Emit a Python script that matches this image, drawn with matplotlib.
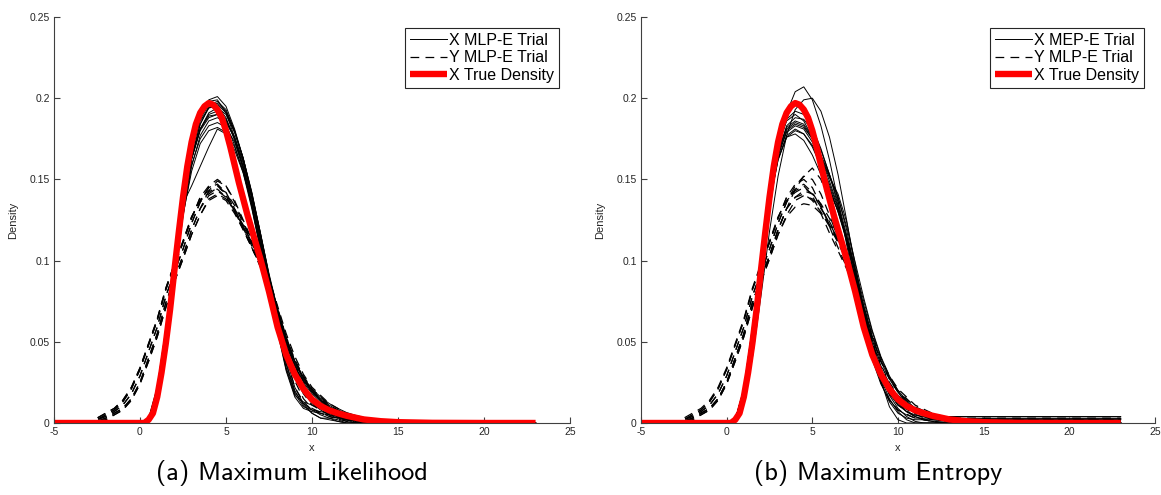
import matplotlib
matplotlib.use("Agg")
import matplotlib.pyplot as plt

# grids the densities were evaluated on
x_grid = [-5, 0, 0.5, 1, 1.5, 2, 2.5, 3, 3.5, 4, 4.5, 5, 5.5, 6, 6.5, 7, 7.5, 8, 8.5,
          9, 9.5, 10, 10.5, 11, 11.5, 12, 12.5, 13, 13.5, 14, 15, 17, 20, 23]
y_grid = [-5, -3, -2.5, -2, -1.5, -1, -0.5, 0, 0.5, 1, 1.5, 2, 2.5, 3, 3.5, 4, 4.5,
          5, 5.5, 6, 6.5, 7, 7.5, 8, 8.5, 9, 9.5, 10, 11, 12, 13, 14, 15, 17, 23]
true_x = [-5, 0, 0.25, 0.5, 0.75, 1, 1.25, 1.5, 1.75, 2, 2.25, 2.5, 2.75, 3, 3.25,
          3.5, 3.75, 4, 4.25, 4.5, 4.75, 5, 5.25, 5.5, 5.75, 6, 6.25, 6.5, 6.75, 7,
          7.25, 7.5, 7.75, 8, 8.5, 9, 9.5, 10, 10.5, 11, 11.5, 12, 13, 14, 15, 17, 20, 23]

true_density = [0, 0, 0, .002, .006, .016, .031, .049, .070, .094, .117, .139, .158,
                .173, .184, .191, .195, .197, .196, .193, .188, .180, .170, .159, .148,
                .138, .128, .119, .110, .101, .091, .081, .070, .059, .042, .030, .021,
                .0145, .0105, .0078, .006, .0045, .0022, .0011, .0005, .0001, 0, 0]

# maximum likelihood trials
x_trials_ml = [
    [0, 0, .002, .018, .052, .092, .134, .167, .189, .199, .201, .195, .181, .163, .140, .114, .088, .066, .048, .035, .026, .019, .014, .010, .0075, .0055, .004, .003, .0022, .0016, .0008, .0002, 0, 0],
    [0, 0, .002, .020, .056, .097, .138, .170, .190, .198, .199, .191, .176, .157, .134, .108, .082, .058, .036, .019, .012, .008, .005, .003, .001, 0, 0, 0, 0, 0, 0, 0, 0, 0],
    [0, 0, .001, .017, .050, .090, .131, .163, .184, .195, .197, .192, .180, .163, .141, .116, .090, .068, .050, .037, .027, .020, .015, .011, .008, .006, .0045, .0033, .0024, .0018, .001, .0003, 0, 0],
    [0, 0, .003, .022, .058, .098, .138, .168, .186, .194, .195, .188, .174, .156, .133, .107, .081, .056, .032, .016, .009, .007, .006, .005, .004, .002, 0, 0, 0, 0, 0, 0, 0, 0],
    [0, 0, .002, .019, .054, .094, .133, .163, .181, .190, .192, .187, .176, .160, .139, .114, .089, .066, .045, .030, .020, .013, .009, .006, .004, .0025, .0015, .001, .0005, .0002, 0, 0, 0, 0],
    [0, 0, .002, .021, .057, .097, .135, .163, .180, .188, .190, .186, .175, .158, .136, .110, .084, .060, .037, .020, .011, .006, .003, .003, .002, 0, 0, 0, 0, 0, 0, 0, 0, 0],
    [0, 0, .001, .016, .049, .088, .127, .158, .177, .186, .188, .185, .176, .161, .141, .117, .092, .070, .052, .038, .028, .021, .016, .012, .009, .0065, .0048, .0035, .0025, .0018, .001, .0003, 0, 0],
    [0, 0, .002, .020, .055, .094, .131, .159, .175, .183, .185, .182, .173, .158, .138, .114, .089, .067, .047, .032, .022, .015, .010, .0065, .004, .0025, .0015, .0008, .0004, .0002, 0, 0, 0, 0],
    [0, 0, .002, .019, .053, .092, .128, .155, .172, .180, .182, .179, .170, .155, .135, .110, .084, .058, .034, .018, .010, .008, .007, .006, .0055, .005, 0, 0, 0, 0, 0, 0, 0, 0],
    [0, 0, .002, .020, .057, .097, .135, .146, .158, .170, .181, .178, .168, .154, .135, .111, .086, .062, .040, .022, .012, .006, .003, .002, .001, 0, 0, 0, 0, 0, 0, 0, 0, 0],
    [0, 0, .002, .019, .054, .095, .136, .167, .187, .196, .198, .193, .180, .162, .139, .113, .087, .064, .044, .029, .019, .012, .008, .005, .003, .002, .001, 0, 0, 0, 0, 0, 0, 0],
    [0, 0, .002, .018, .053, .093, .132, .162, .181, .191, .194, .190, .179, .163, .142, .117, .091, .069, .051, .038, .028, .020, .014, .010, .007, .005, .0035, .0025, .0018, .0013, .0007, .0002, 0, 0],
    [0, 0, .002, .021, .057, .096, .134, .163, .181, .189, .190, .184, .171, .154, .132, .107, .082, .057, .033, .017, .013, .011, .009, .007, .004, .001, 0, 0, 0, 0, 0, 0, 0, 0],
    [0, 0, .002, .019, .054, .094, .133, .164, .184, .194, .196, .191, .179, .163, .142, .117, .091, .068, .049, .035, .025, .018, .013, .009, .006, .004, .0025, .0015, .0008, .0004, .0001, 0, 0, 0],
]
y_trials_ml = [
    [0, 0, .002, .004, .007, .011, .018, .029, .044, .059, .078, .093, .107, .123, .136, .142, .146, .141, .132, .121, .110, .098, .086, .068, .050, .036, .026, .019, .009, .004, .0015, .0005, .0002, 0, 0],
    [0, 0, .002, .005, .008, .013, .021, .033, .048, .063, .082, .097, .111, .126, .139, .146, .150, .146, .136, .124, .112, .100, .088, .066, .044, .026, .015, .009, .004, .001, 0, 0, 0, 0, 0],
    [0, 0, .003, .006, .009, .014, .022, .034, .049, .064, .083, .098, .112, .127, .137, .145, .147, .140, .130, .119, .108, .097, .087, .070, .053, .039, .029, .021, .011, .005, .002, .0008, .0003, 0, 0],
    [0, 0, .001, .002, .005, .008, .014, .024, .038, .053, .071, .087, .101, .116, .128, .137, .140, .137, .129, .119, .108, .097, .085, .065, .045, .029, .018, .011, .005, .002, .001, 0, 0, 0, 0],
    [0, 0, .001, .003, .006, .009, .015, .025, .040, .055, .074, .089, .103, .119, .132, .143, .144, .139, .130, .120, .109, .098, .087, .069, .052, .038, .028, .020, .010, .0045, .002, .0007, .0002, 0, 0],
    [0, 0, .002, .005, .008, .013, .021, .033, .048, .063, .082, .097, .111, .126, .139, .143, .149, .146, .137, .125, .113, .101, .089, .070, .051, .035, .024, .016, .007, .003, .001, 0, 0, 0, 0],
    [0, 0, .001, .002, .005, .008, .014, .024, .038, .053, .071, .087, .101, .116, .128, .138, .141, .138, .131, .122, .111, .100, .089, .072, .055, .041, .030, .022, .012, .006, .0025, .001, .0003, 0, 0],
    [0, 0, .002, .004, .007, .011, .018, .029, .044, .059, .078, .093, .107, .123, .136, .145, .147, .142, .132, .120, .108, .096, .084, .062, .040, .022, .013, .008, .004, .002, .001, 0, 0, 0, 0],
    [0, 0, .001, .003, .006, .009, .015, .025, .040, .055, .074, .089, .103, .119, .132, .140, .143, .139, .131, .121, .111, .100, .088, .071, .053, .038, .027, .019, .009, .004, .0015, .0005, 0, 0, 0],
    [0, 0, .003, .006, .009, .014, .022, .034, .049, .064, .083, .098, .112, .127, .137, .141, .145, .142, .134, .123, .111, .099, .086, .066, .046, .030, .020, .013, .006, .002, .001, 0, 0, 0, 0],
]

# maximum entropy trials
x_trials_me = [
    [0, 0, .001, .014, .046, .087, .130, .166, .191, .204, .207, .199, .183, .162, .137, .110, .083, .059, .039, .024, .014, .008, .005, .003, .003, .003, .003, .003, .003, .003, .003, .003, .003, .003],
    [0, 0, .001, .012, .040, .078, .118, .152, .177, .193, .199, .200, .192, .176, .153, .125, .095, .068, .046, .030, .019, .012, .007, .004, .002, .001, 0, 0, 0, 0, 0, 0, 0, 0],
    [0, 0, .002, .020, .058, .101, .142, .171, .186, .190, .186, .176, .163, .151, .141, .124, .098, .070, .046, .029, .018, .011, .007, .005, .004, .003, .003, .003, .0025, .0025, .0025, .0025, .0025, .0025],
    [0, 0, .002, .021, .059, .101, .141, .168, .182, .186, .184, .176, .164, .152, .139, .119, .093, .067, .044, .027, .015, .007, .002, 0, 0, 0, 0, 0, 0, 0, 0, 0, 0, 0],
    [0, 0, .002, .020, .057, .099, .138, .165, .179, .183, .181, .173, .160, .145, .130, .114, .095, .075, .056, .040, .028, .019, .012, .008, .006, .005, .004, .004, .004, .004, .004, .004, .004, .004],
    [0, 0, .002, .019, .056, .097, .135, .162, .176, .180, .178, .171, .160, .147, .132, .114, .092, .070, .048, .030, .017, .009, .004, .001, 0, 0, 0, 0, 0, 0, 0, 0, 0, 0],
    [0, 0, .001, .017, .052, .094, .135, .166, .183, .188, .187, .180, .168, .153, .136, .116, .094, .072, .053, .038, .027, .019, .013, .009, .006, .004, .0025, .0015, .001, .0007, .0005, .0004, .0004, .0004],
    [0, 0, .002, .021, .058, .099, .137, .163, .176, .178, .174, .165, .153, .142, .131, .113, .089, .064, .042, .025, .013, .006, .003, .002, .002, .002, .002, .002, .002, .002, .002, .002, .002, .002],
    [0, 0, .002, .019, .055, .097, .138, .169, .187, .192, .190, .182, .169, .153, .134, .112, .088, .066, .047, .033, .023, .016, .011, .007, .005, .003, .002, .0015, .001, .0008, .0005, .0003, .0003, .0003],
    [0, 0, .002, .020, .056, .098, .138, .166, .181, .185, .183, .175, .163, .149, .133, .115, .093, .070, .047, .026, .010, .002, 0, 0, 0, 0, 0, 0, 0, 0, 0, 0, 0, 0],
    [0, 0, .002, .019, .055, .096, .136, .164, .180, .184, .182, .175, .165, .153, .139, .121, .099, .077, .057, .041, .029, .020, .014, .009, .006, .004, .003, .0025, .0025, .0025, .0025, .0025, .0025, .0025],
    [0, 0, .002, .020, .057, .098, .136, .162, .177, .181, .178, .170, .158, .145, .130, .112, .090, .068, .049, .034, .022, .013, .007, .004, .002, .001, 0, 0, 0, 0, 0, 0, 0, 0],
]
y_trials_me = [
    [0, 0, .001, .003, .006, .009, .015, .025, .040, .055, .074, .089, .103, .119, .132, .144, .152, .157, .150, .136, .120, .104, .090, .070, .050, .034, .022, .014, .006, .003, .002, .002, .002, .002, .002],
    [0, 0, .002, .004, .007, .011, .018, .029, .044, .059, .078, .093, .107, .123, .136, .144, .147, .142, .133, .122, .112, .101, .089, .069, .050, .035, .024, .016, .007, .003, .0015, .0015, .0015, .0015, .0015],
    [0, 0, .001, .002, .005, .008, .014, .024, .038, .053, .071, .087, .101, .116, .128, .137, .140, .138, .132, .124, .114, .102, .088, .066, .045, .029, .018, .011, .004, .001, 0, 0, 0, 0, 0],
    [0, 0, .001, .002, .005, .008, .014, .024, .038, .053, .071, .087, .101, .116, .127, .133, .135, .134, .129, .122, .113, .103, .091, .072, .053, .038, .027, .019, .009, .004, .002, .002, .002, .002, .002],
    [0, 0, .002, .005, .008, .013, .021, .033, .048, .063, .082, .097, .111, .126, .139, .147, .150, .145, .134, .121, .108, .096, .084, .064, .045, .030, .019, .012, .005, .002, .001, 0, 0, 0, 0],
    [0, 0, .003, .006, .009, .014, .022, .034, .049, .064, .083, .098, .112, .127, .137, .142, .145, .141, .133, .123, .113, .102, .090, .072, .054, .040, .029, .021, .011, .006, .003, .003, .003, .003, .003],
    [0, 0, .002, .005, .008, .013, .021, .033, .048, .063, .082, .097, .111, .126, .139, .143, .146, .140, .129, .117, .106, .095, .083, .063, .042, .025, .014, .008, .003, .001, 0, 0, 0, 0, 0],
    [0, 0, .001, .003, .006, .009, .015, .025, .040, .055, .074, .089, .103, .119, .132, .139, .143, .141, .135, .126, .115, .103, .090, .070, .051, .036, .025, .017, .008, .004, .002, .001, .001, .001, .001],
    [0, 0, .002, .004, .007, .011, .018, .029, .044, .059, .078, .093, .107, .123, .136, .146, .152, .150, .141, .128, .114, .101, .088, .068, .048, .032, .021, .014, .006, .002, .001, 0, 0, 0, 0],
    [0, 0, .001, .003, .006, .009, .015, .025, .040, .055, .074, .089, .103, .119, .132, .139, .141, .137, .130, .121, .111, .100, .089, .070, .052, .038, .028, .020, .010, .005, .002, .001, 0, 0, 0],
]

x_ticks = [-5, 0, 5, 10, 15, 20, 25]
x_tick_labels = ["-5", "0", "5", "10", "15", "20", "25"]
y_ticks = [0, 0.05, 0.1, 0.15, 0.2, 0.25]
y_tick_labels = ["0", "0.05", "0.1", "0.15", "0.2", "0.25"]

legend_ml = ["X MLP-E Trial", "Y MLP-E Trial", "X True Density"]
legend_me = ["X MEP-E Trial", "Y MLP-E Trial", "X True Density"]
captions = ["(a) Maximum Likelihood", "(b) Maximum Entropy"]

plt.rcParams["font.family"] = ["Liberation Sans", "DejaVu Sans"]
axis_grey = "#404040"
text_grey = "#262626"

fig = plt.figure(figsize=(11.61, 4.95), dpi=100)
ax_ml = fig.add_axes([54 / 1161, 72 / 495, 516 / 1161, 406 / 495])
ax_me = fig.add_axes([641 / 1161, 72 / 495, 514 / 1161, 406 / 495])


def draw_panel(ax, x_trials, y_trials, labels):
    hx = hy = None
    for row in x_trials:
        hx, = ax.plot(x_grid, row, color="black", lw=0.7)
    for row in y_trials:
        hy, = ax.plot(y_grid, row, color="black", lw=0.9, linestyle=(0, (7, 5)))
    hr, = ax.plot(true_x, true_density, color="#ff0000", lw=4.6,
                  solid_capstyle="butt", solid_joinstyle="round")

    ax.set_xlim(-5, 25)
    ax.set_ylim(0, 0.25)
    ax.set_xticks(x_ticks)
    ax.set_xticklabels(x_tick_labels)
    ax.set_yticks(y_ticks)
    ax.set_yticklabels(y_tick_labels)
    ax.tick_params(direction="in", length=4, width=0.8, colors=axis_grey,
                   labelcolor=text_grey, labelsize=7.5, pad=3)
    for side in ("top", "right"):
        ax.spines[side].set_visible(False)
    for side in ("left", "bottom"):
        ax.spines[side].set_color(axis_grey)
        ax.spines[side].set_linewidth(0.8)
    ax.set_xlabel("x", fontsize=8, color=text_grey, labelpad=4)
    ax.set_ylabel("Density", fontsize=8, color=text_grey, labelpad=8)

    leg = ax.legend([hx, hy, hr], labels, loc="upper right", fontsize=11.5,
                    frameon=True, fancybox=False, framealpha=1,
                    edgecolor="#262626", handlelength=2.3, handletextpad=0.15,
                    borderpad=0.3, labelspacing=0.15, borderaxespad=0.7)
    leg.get_frame().set_linewidth(0.8)


draw_panel(ax_ml, x_trials_ml, y_trials_ml, legend_ml)
draw_panel(ax_me, x_trials_me, y_trials_me, legend_me)

fig.text(292 / 1161, 1 - 473 / 495, captions[0], family="cmss10", fontsize=19,
         ha="center", va="center")
fig.text(878 / 1161, 1 - 473 / 495, captions[1], family="cmss10", fontsize=19,
         ha="center", va="center")

fig.savefig("out.png", dpi=100)
